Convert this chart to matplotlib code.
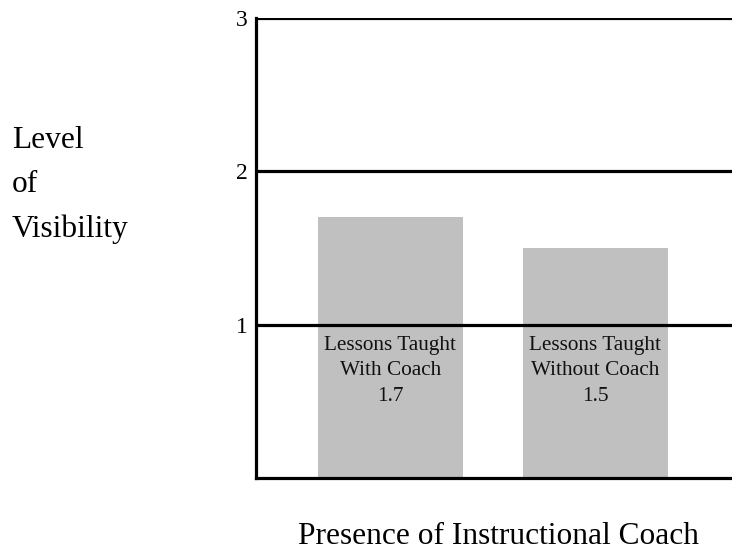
import matplotlib
matplotlib.use("Agg")
import matplotlib.pyplot as plt

plt.rcParams["font.family"] = ["Liberation Serif", "DejaVu Serif"]

categories = ["Lessons Taught\nWith Coach", "Lessons Taught\nWithout Coach"]
values = [1.7, 1.5]
y_ticks = [1, 2, 3]


def main() -> None:
    fig = plt.figure(figsize=(7.32, 5.5), dpi=100)
    ax = fig.add_axes([256 / 732, 72 / 550, 476 / 732, 460 / 550])

    x = list(range(len(categories)))
    ax.bar(x, values, width=0.707, color="#c0c0c0", zorder=1)
    for xi, label, v in zip(x, categories, values):
        ax.text(xi, 0.925, f"{label}\n{v}", ha="center", va="top",
                fontsize=15.3, linespacing=1.45, color="#111111", zorder=3)

    for t in y_ticks:
        ax.axhline(t, color="black", linewidth=2.3, zorder=2)

    ax.set_xlim(-0.656, 1.666)
    ax.set_ylim(0, 3)
    ax.set_yticks(y_ticks)
    ax.set_yticklabels([str(t) for t in y_ticks], fontsize=17)
    ax.tick_params(axis="y", length=0, pad=6)
    ax.set_xticks([])
    for side in ("top", "right"):
        ax.spines[side].set_visible(False)
    for side in ("left", "bottom"):
        ax.spines[side].set_linewidth(2.3)
        ax.spines[side].set_zorder(4)

    fig.text(12 / 732, 1 - 185 / 550, "Level\nof\nVisibility", ha="left", va="center",
             fontsize=22.6, linespacing=1.7)
    fig.text(498 / 732, 1 - 537 / 550, "Presence of Instructional Coach", ha="center",
             va="center", fontsize=22.6)

    fig.savefig("out.png", dpi=100)
    plt.close(fig)


if __name__ == "__main__":
    main()
